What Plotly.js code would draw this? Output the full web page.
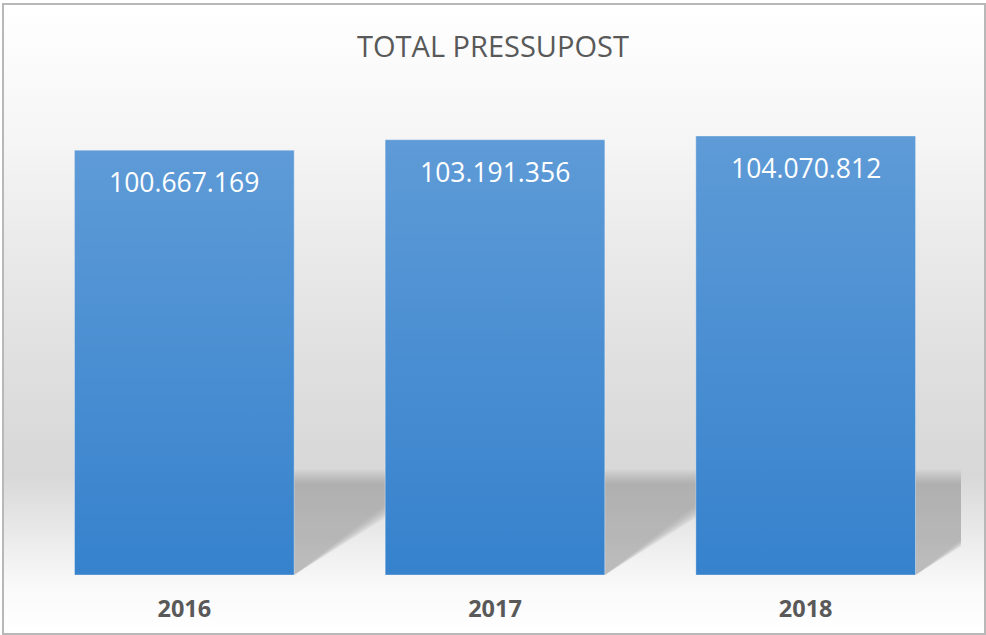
<!DOCTYPE html>
<html>
<head>
<meta charset="utf-8">
<script src="https://cdn.plot.ly/plotly-3.0.1.min.js"></script>
<style>
  html, body { margin: 0; padding: 0; width: 986px; height: 635px; overflow: hidden; background: #ffffff; }
  #bg {
    position: absolute; left: 2px; top: 3px; width: 980px; height: 628px;
    border: 2px solid #b8b8b8;
    background: linear-gradient(to bottom, #ffffff 0px, #fafafa 70px, #f5f5f5 140px, #ebebeb 230px, #e1e1e1 340px, #dadada 430px, #d8d8d8 470px, #e4e4e4 510px, #f2f2f2 555px, #fafafa 585px, #ffffff 628px);
  }
  #chart { position: absolute; left: 0; top: 0; width: 986px; height: 635px; }
</style>
</head>
<body>
<div id="bg"></div>
<div id="chart"></div>
<script>
// ---- data ----
const categories = ['2016', '2017', '2018'];
const values = [100667169, 103191356, 104070812];
const chartTitle = 'TOTAL PRESSUPOST';

// ---- style constants ----
const barWidthFrac = 0.707;
const shadowHeight = 23.5e6;   // floor shadow height in data units
const shadowLen = 0.46;        // in category units

const xpos = categories.map((c, i) => i);

function fmt(v) {
  return String(Math.round(v)).replace(/\B(?=(\d{3})+(?!\d))/g, '.');
}

const gradSvg = '<svg xmlns="http://www.w3.org/2000/svg" width="10" height="100" viewBox="0 0 10 100" preserveAspectRatio="none">' +
  '<defs><linearGradient id="g" x1="0" y1="0" x2="0" y2="1">' +
  '<stop offset="0" stop-color="#ffffff" stop-opacity="0.2"/>' +
  '<stop offset="1" stop-color="#ffffff" stop-opacity="0"/>' +
  '</linearGradient></defs><rect width="10" height="100" fill="url(#g)"/></svg>';
const gradSrc = 'data:image/svg+xml;charset=utf-8,' + encodeURIComponent(gradSvg);

const trace = {
  type: 'bar',
  x: xpos,
  y: values,
  width: barWidthFrac,
  customdata: categories,
  marker: { color: '#3682cd', line: { color: 'rgba(255,255,255,0.35)', width: 1 } },
  hovertemplate: '%{customdata}: %{y}<extra></extra>',
  showlegend: false
};

const annotations = xpos.map((x, i) => ({
  x: x, y: values[i], xref: 'x', yref: 'y',
  text: fmt(values[i]),
  showarrow: false, yanchor: 'top', yshift: -12,
  font: { family: 'Open Sans, sans-serif', size: 26.5, color: '#ffffff' }
}));

const images = xpos.map((x, i) => ({
  source: gradSrc, xref: 'x', yref: 'y',
  x: x - barWidthFrac / 2, y: values[i],
  sizex: barWidthFrac, sizey: values[i],
  xanchor: 'left', yanchor: 'top', sizing: 'stretch', layer: 'above', opacity: 1
}));

// soft floor shadow built as stacked translucent triangles
const shadowLayers = [];
for (let k = 0; k < 8; k++) {
  const t = k / 7;
  shadowLayers.push({ grow: 0.08 - 0.16 * t, hy: 1.06 - 0.14 * t, op: 0.085 });
}
const shapes = [];
xpos.forEach((x) => {
  const xr = x + barWidthFrac / 2;
  shadowLayers.forEach(l => {
    const L = shadowLen + l.grow;
    const H = shadowHeight * l.hy;
    shapes.push({
      type: 'path', xref: 'x', yref: 'y', layer: 'below',
      path: `M ${xr} 0 L ${xr} ${H} L ${xr + L} ${H} Z`,
      fillcolor: 'rgba(140,140,140,' + l.op + ')',
      line: { width: 0 }
    });
  });
});

const layout = {
  width: 986, height: 635,
  margin: { l: 28.5, r: 24.5, t: 110.5, b: 60 },
  paper_bgcolor: 'rgba(0,0,0,0)',
  plot_bgcolor: 'rgba(0,0,0,0)',
  separators: ',.',
  title: {
    text: chartTitle, x: 0.5, xanchor: 'center', y: 1 - 47 / 635, yanchor: 'middle', yref: 'container',
    font: { family: 'Open Sans, sans-serif', size: 29, color: '#595959' }
  },
  xaxis: {
    type: 'linear', range: [-0.5, 2.5], fixedrange: true,
    tickmode: 'array', tickvals: xpos, ticktext: categories,
    showgrid: false, zeroline: false, showline: false, ticks: '',
    tickfont: { family: 'Open Sans, sans-serif', size: 23.5, color: '#595959', weight: 'bold' },
    ticklabelstandoff: 17
  },
  yaxis: {
    range: [0, 110e6], visible: false, showgrid: false, zeroline: false, fixedrange: true
  },
  annotations: annotations,
  images: images,
  shapes: shapes
};

Plotly.newPlot('chart', [trace], layout, { displayModeBar: false, staticPlot: true });
</script>
</body>
</html>
